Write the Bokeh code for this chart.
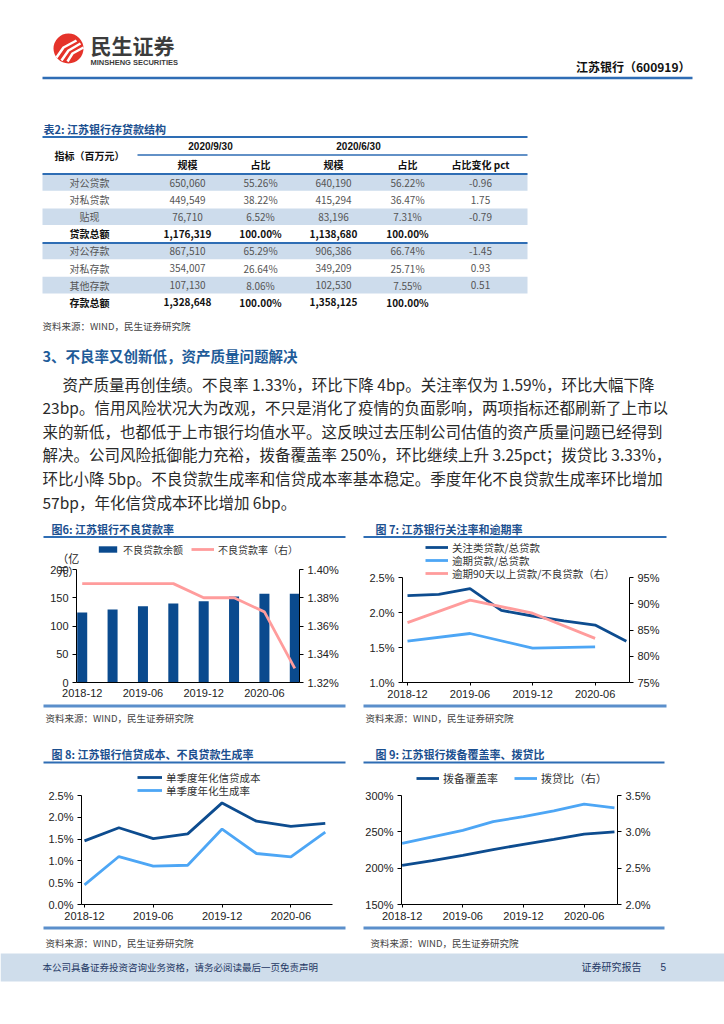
from bokeh.plotting import figure
from bokeh.layouts import column, row
from bokeh.models import Range1d, LinearAxis, FixedTicker, PrintfTickFormatter, Legend, LegendItem, Label
from bokeh.core.properties import value
from bokeh.embed import file_html
from bokeh.resources import INLINE

CJK = "Noto Sans CJK SC"
LAT = "Liberation Sans"
DARK = "#0D4C8F"
LIGHT = "#4DA6F5"
PINK = "#FF9C9C"
BAR = "#0A4A8E"
TITLE_BLUE = "#1B4F8F"
LINE_BLUE = "#2E6DB4"
BOTTOM_BLUE = "#5B8FCB"
PAGE_W = 724

# ---------------- data ----------------
table_title = "表2:  江苏银行存贷款结构"
table_groups = ["2020/9/30", "2020/6/30"]
table_subheads = ["规模", "占比", "规模", "占比", "占比变化 pct"]
table_rows = ["对公贷款", "对私贷款", "贴现", "贷款总额", "对公存款", "对私存款", "其他存款", "存款总额"]
scale_2020q3 = [650060, 449549, 76710, 1176319, 867510, 354007, 107130, 1328648]
share_2020q3 = [55.26, 38.22, 6.52, 100.00, 65.29, 26.64, 8.06, 100.00]
scale_2020q2 = [640190, 415294, 83196, 1138680, 906386, 349209, 102530, 1358125]
share_2020q2 = [56.22, 36.47, 7.31, 100.00, 66.74, 25.71, 7.55, 100.00]
share_change = ["-0.96", "1.75", "-0.79", "", "-1.45", "0.93", "0.51", ""]
total_rows = ["贷款总额", "存款总额"]

source_text = "资料来源：WIND，民生证券研究院"
section_heading = "3、不良率又创新低，资产质量问题解决"
paragraph = [
    "资产质量再创佳绩。不良率 1.33%，环比下降 4bp。关注率仅为 1.59%，环比大幅下降",
    "23bp。信用风险状况大为改观，不只是消化了疫情的负面影响，两项指标还都刷新了上市以",
    "来的新低，也都低于上市银行均值水平。这反映过去压制公司估值的资产质量问题已经得到",
    "解决。公司风险抵御能力充裕，拨备覆盖率 250%，环比继续上升 3.25pct；拨贷比 3.33%，",
    "环比小降 5bp。不良贷款生成率和信贷成本率基本稳定。季度年化不良贷款生成率环比增加",
    "57bp，年化信贷成本环比增加 6bp。",
]

quarters = ["2018-12", "2019-03", "2019-06", "2019-09", "2019-12", "2020-03", "2020-06", "2020-09"]
label_quarters = ["2018-12", "2019-06", "2019-12", "2020-06"]

# Fig 6
npl_balance = [124, 129, 135, 140, 144, 152, 157, 157]
npl_ratio = [1.39, 1.39, 1.39, 1.39, 1.38, 1.38, 1.37, 1.33]
npl_unit = ["（亿", "元）"]
# Fig 7
special_mention = [2.24, 2.26, 2.34, 2.03, 1.95, 1.88, 1.82, 1.59]
overdue_quarters = ["2018-12", "2019-06", "2019-12", "2020-06"]
overdue_ratio = [1.59, 1.70, 1.49, 1.51]
overdue90_to_npl = [86.4, 90.7, 88.2, 83.4]
# Fig 8
credit_cost = [1.46, 1.76, 1.51, 1.62, 2.33, 1.91, 1.79, 1.86]
npl_formation = [0.45, 1.10, 0.88, 0.90, 1.73, 1.17, 1.09, 1.66]
# Fig 9
coverage = [203.8, 210.5, 217.7, 225.5, 232.8, 239.5, 246.8, 250.0]
loan_provision = [2.84, 2.93, 3.02, 3.14, 3.21, 3.29, 3.38, 3.33]

titles = {
    "f6": "图6:  江苏银行不良贷款率",
    "f7": "图 7: 江苏银行关注率和逾期率",
    "f8": "图 8: 江苏银行信贷成本、不良贷款生成率",
    "f9": "图 9: 江苏银行拨备覆盖率、拨贷比",
}
legend_f6 = ["不良贷款余额", "不良贷款率（右）"]
legend_f7 = ["关注类贷款/总贷款", "逾期贷款/总贷款", "逾期90天以上贷款/不良贷款（右）"]
legend_f8 = ["单季度年化信贷成本", "单季度年化生成率"]
legend_f9 = ["拨备覆盖率", "拨贷比（右）"]
footer_left = "本公司具备证券投资咨询业务资格，请务必阅读最后一页免责声明"
footer_right = "证券研究报告"
page_no = "5"

LEG_H = 17  # legend row height (px)


# ---------------- helpers ----------------
def strip(y0, y1):
    p = figure(width=PAGE_W, height=y1 - y0, x_range=Range1d(0, PAGE_W), y_range=Range1d(y1, y0),
               output_backend="svg", toolbar_location=None, x_axis_type=None, y_axis_type=None,
               min_border=0)
    p.outline_line_color = None
    p.background_fill_color = "white"
    p.border_fill_color = "white"
    return p


def txt(p, x, y, s, size="10px", font=CJK, color="#222", bold=False, align="left", baseline="middle"):
    xs = x if isinstance(x, list) else [x]
    ys = y if isinstance(y, list) else [y]
    ss = s if isinstance(s, list) else [s]
    p.text(x=xs, y=ys, text=ss, text_font=value(font), text_font_size=size,
           text_color=color, text_font_style="bold" if bold else "normal",
           text_align=align, text_baseline=baseline)


def hline(p, x0, x1, y, width=2, color=LINE_BLUE):
    p.line(x=[x0, x1], y=[y, y], line_width=width, line_color=color)


def extended(lo, hi, data_px, frame_px):
    """range whose [lo, hi] occupies the lower data_px of a frame_px-tall frame"""
    return Range1d(lo, lo + (hi - lo) * frame_px / data_px)


def chart(w, h, xr, yr, left, right, bottom):
    p = figure(width=w, height=h, x_range=xr, y_range=yr, output_backend="svg",
               toolbar_location=None, min_border_left=left, min_border_right=right,
               min_border_top=0, min_border_bottom=bottom)
    p.xgrid.visible = False
    p.ygrid.visible = False
    p.outline_line_color = None
    p.background_fill_color = "white"
    p.border_fill_color = "white"
    return p


def style_axis(ax, ticks, fmt=None, tick_out=4, standoff=4):
    ax.ticker = FixedTicker(ticks=ticks)
    ax.bounds = (min(ticks), max(ticks))
    ax.axis_line_color = "#000000"
    ax.axis_line_width = 1
    ax.major_tick_line_color = "#000000" if tick_out > 0 else None
    ax.major_tick_out = tick_out
    ax.major_tick_in = 0
    ax.minor_tick_line_color = None
    ax.major_label_text_font = LAT
    ax.major_label_text_font_size = "11px"
    ax.major_label_text_color = "#222222"
    ax.major_label_standoff = standoff
    if fmt:
        ax.formatter = PrintfTickFormatter(format=fmt)


def style_xaxis(ax, tick_out, standoff):
    ticks = [quarters.index(q) for q in label_quarters]
    style_axis(ax, ticks, tick_out=tick_out, standoff=standoff)
    ax.bounds = "auto"
    ax.major_label_overrides = {quarters.index(q): q for q in label_quarters}


def add_legend(p, items, vx, center_y, frame_h, orientation="horizontal", spacing=10,
               glyph_height=12, glyph_width=23, font_size="11px"):
    # center_y measured in px from the frame top
    vy = frame_h - (center_y - LEG_H / 2) - LEG_H
    lg = Legend(items=items, location=(vx, vy), orientation=orientation)
    lg.border_line_color = None
    lg.background_fill_alpha = 0
    lg.padding = 0
    lg.margin = 0
    lg.spacing = spacing
    lg.label_text_font = CJK
    lg.label_text_font_size = font_size
    lg.label_text_color = "#333333"
    lg.label_height = LEG_H
    lg.glyph_height = glyph_height
    lg.glyph_width = glyph_width
    lg.label_standoff = 4
    p.add_layout(lg, "center")


idx = list(range(len(quarters)))

# ---------------- strip 1: header, table, paragraph (page y 0-540) ----------------
s1 = strip(0, 540)
s1.circle(x=[68], y=[48], radius=15, fill_color="#E5332A", line_color=None)
s1.multi_line(xs=[[56, 63, 76], [61, 68, 80], [67, 72, 83]],
              ys=[[57, 47, 40], [60, 50, 43], [61, 53, 47]], line_color="white", line_width=2.5)
txt(s1, 90, 44, "民生证券", size="21px", color="#3C3C3C", bold=True)
txt(s1, 90, 61.5, "MINSHENG SECURITIES", size="7.5px", font=LAT, color="#3C3C3C", bold=True)
txt(s1, 690, 66, "江苏银行（600919）", size="12px", color="#111111", bold=True, align="right")
hline(s1, 42, 692, 77.5, width=2.5, color="#2F6DB5")

# table
txt(s1, 43, 128, table_title, size="11px", color=TITLE_BLUE, bold=True)
col_x = [89, 187, 260, 333, 407, 480]
row_y = [182 + i * 17.1 for i in range(len(table_rows))]
shade = [y for i, y in enumerate(row_y) if i % 2 == 0]
s1.quad(left=42, right=527, top=[y - 8.3 for y in shade], bottom=[y + 8.3 for y in shade],
        fill_color="#CDDCEC", line_color=None)
hline(s1, 42, 527, 136.5, width=2)
hline(s1, 137, 527, 154.5, width=1.5)
hline(s1, 42, 527, 173.5, width=2)
hline(s1, 42, 527, 242.5, width=2)
txt(s1, col_x[0], 155, "指标（百万元）", size="10px", color="#111111", bold=True, align="center")
txt(s1, [210, 358], [146, 146], table_groups, size="10px", font=LAT, color="#111111", bold=True, align="center")
txt(s1, col_x[1:], [164] * 5, table_subheads, size="10px", color="#111111", bold=True, align="center")
for i, name in enumerate(table_rows):
    bold = name in total_rows
    c = "#111111" if bold else "#555555"
    vals = [name, f"{scale_2020q3[i]:,}", f"{share_2020q3[i]:.2f}%", f"{scale_2020q2[i]:,}",
            f"{share_2020q2[i]:.2f}%", share_change[i]]
    txt(s1, col_x, [row_y[i]] * 6, vals, size="10px", color=c, bold=bold, align="center")
txt(s1, 42, 325, source_text, size="9.5px", color="#444444")

# section text
txt(s1, 42, 355, section_heading, size="14.5px", color="#1F5C99", bold=True)
for i, line in enumerate(paragraph):
    txt(s1, 62 if i == 0 else 42, 383 + 23.6 * i, line, size="15.5px", color="#2A2A2A")

# fig 6 / 7 titles
txt(s1, 51, 528, titles["f6"], size="11px", color=TITLE_BLUE, bold=True)
txt(s1, 375, 528, titles["f7"], size="11px", color=TITLE_BLUE, bold=True)
hline(s1, 43, 345, 536.5, width=2)
hline(s1, 363, 666, 536.5, width=2)

# ---------------- chart 6 (canvas x 0-362, y 540-703; frame 540-682; data 569-682) ----------------
c6 = chart(362, 163, Range1d(-0.188, 7.155), extended(0, 200, 113, 142), 76, 63, 21)
c6.extra_y_ranges = {"r": extended(1.32, 1.40, 113, 142)}
bars = c6.vbar(x=idx, top=npl_balance, width=0.33, fill_color=BAR, line_color=None)
l6 = c6.line(x=idx, y=npl_ratio, y_range_name="r", line_color=PINK, line_width=2.8)
style_axis(c6.yaxis[0], [0, 50, 100, 150, 200])
style_xaxis(c6.xaxis[0], tick_out=0, standoff=6)
r6 = LinearAxis(y_range_name="r")
style_axis(r6, [1.32, 1.34, 1.36, 1.38, 1.40], fmt="%.2f%%")
c6.add_layout(r6, "right")
for t, yv in zip(npl_unit, [221, 197]):
    c6.add_layout(Label(x=-0.46, y=yv, text=t, text_font=CJK, text_font_size="11px",
                        text_color="#222222", text_align="center", text_baseline="middle"), "left")
add_legend(c6, [LegendItem(label=legend_f6[0], renderers=[bars]),
                LegendItem(label=legend_f6[1], renderers=[l6])],
           20, 549 - 540, 142, spacing=8, glyph_height=8, font_size="10px")

# ---------------- chart 7 (canvas x 362-724; frame 540-682, data 577-682) ----------------
c7 = chart(362, 163, Range1d(-0.16, 7.1), extended(1.0, 2.5, 105, 142), 40, 95, 21)
c7.extra_y_ranges = {"r": extended(75, 95, 105, 142)}
ov_idx = [quarters.index(q) for q in overdue_quarters]
l7a = c7.line(x=idx, y=special_mention, line_color=DARK, line_width=2.8)
l7b = c7.line(x=ov_idx, y=overdue_ratio, line_color=LIGHT, line_width=2.8)
l7c = c7.line(x=ov_idx, y=overdue90_to_npl, y_range_name="r", line_color=PINK, line_width=2.8)
style_axis(c7.yaxis[0], [1.0, 1.5, 2.0, 2.5], fmt="%.1f%%")
style_xaxis(c7.xaxis[0], tick_out=3, standoff=4)
r7 = LinearAxis(y_range_name="r")
style_axis(r7, [75, 80, 85, 90, 95], fmt="%d%%")
c7.add_layout(r7, "right")
for lab, rnd, cy in zip(legend_f7, [l7a, l7b, l7c], [547, 560, 573]):
    add_legend(c7, [LegendItem(label=lab, renderers=[rnd])], 23, cy - 540, 142, font_size="10.5px")

# ---------------- strip 2 (page y 703-765) ----------------
s2 = strip(703, 765)
hline(s2, 43, 345, 705.5, width=3, color=BOTTOM_BLUE)
hline(s2, 363, 666, 705.5, width=3, color=BOTTOM_BLUE)
txt(s2, [45, 365], [717, 717], [source_text, source_text], size="9.5px", color="#444444")
txt(s2, 51, 753, titles["f8"], size="11px", color=TITLE_BLUE, bold=True)
txt(s2, 375, 753, titles["f9"], size="11px", color=TITLE_BLUE, bold=True)
hline(s2, 43, 345, 762, width=2)
hline(s2, 363, 664, 762, width=2)

# ---------------- chart 8 (canvas x 0-362, y 765-925; frame 765-904, data 795-904) ----------------
c8 = chart(362, 160, Range1d(-0.087, 7.21), extended(0, 2.5, 109, 139), 81, 30, 21)
l8a = c8.line(x=idx, y=credit_cost, line_color=DARK, line_width=2.8)
l8b = c8.line(x=idx, y=npl_formation, line_color=LIGHT, line_width=2.8)
style_axis(c8.yaxis[0], [0, 0.5, 1.0, 1.5, 2.0, 2.5], fmt="%.1f%%")
style_xaxis(c8.xaxis[0], tick_out=3, standoff=4)
for lab, rnd, cy in zip(legend_f8, [l8a, l8b], [777, 790]):
    add_legend(c8, [LegendItem(label=lab, renderers=[rnd])], 56, cy - 765, 139, glyph_width=25,
               font_size="10.5px")

# ---------------- chart 9 (canvas x 362-724) ----------------
c9 = chart(362, 160, Range1d(-0.02, 7.1), extended(150, 300, 109, 139), 38, 107, 21)
c9.extra_y_ranges = {"r": extended(2.0, 3.5, 109, 139)}
l9a = c9.line(x=idx, y=coverage, line_color=DARK, line_width=2.8)
l9b = c9.line(x=idx, y=loan_provision, y_range_name="r", line_color=LIGHT, line_width=2.8)
style_axis(c9.yaxis[0], [150, 200, 250, 300], fmt="%d%%")
style_xaxis(c9.xaxis[0], tick_out=3, standoff=4)
r9 = LinearAxis(y_range_name="r")
style_axis(r9, [2.0, 2.5, 3.0, 3.5], fmt="%.1f%%")
c9.add_layout(r9, "right")
add_legend(c9, [LegendItem(label=legend_f9[0], renderers=[l9a]),
                LegendItem(label=legend_f9[1], renderers=[l9b])],
           15, 778 - 765, 139, spacing=16)

# ---------------- strip 3 (page y 925-1016) ----------------
s3 = strip(925, 1016)
hline(s3, 43, 345, 927.5, width=3, color=BOTTOM_BLUE)
hline(s3, 363, 664, 927.5, width=3, color=BOTTOM_BLUE)
txt(s3, [45, 370], [942, 942], [source_text, source_text], size="9.5px", color="#444444")
s3.quad(left=0, right=PAGE_W, top=953, bottom=981, fill_color="#CFDDEB", line_color=None)
txt(s3, 42, 966, footer_left, size="9.5px", color="#1F3864")
txt(s3, 581, 966, footer_right, size="10px", color="#1F3864")
txt(s3, 660, 966, page_no, size="10px", font=LAT, color="#1F3864")

layout = column(s1, row(c6, c7), s2, row(c8, c9), s3)

with open("out.html", "w") as f:
    f.write(file_html(layout, INLINE))
